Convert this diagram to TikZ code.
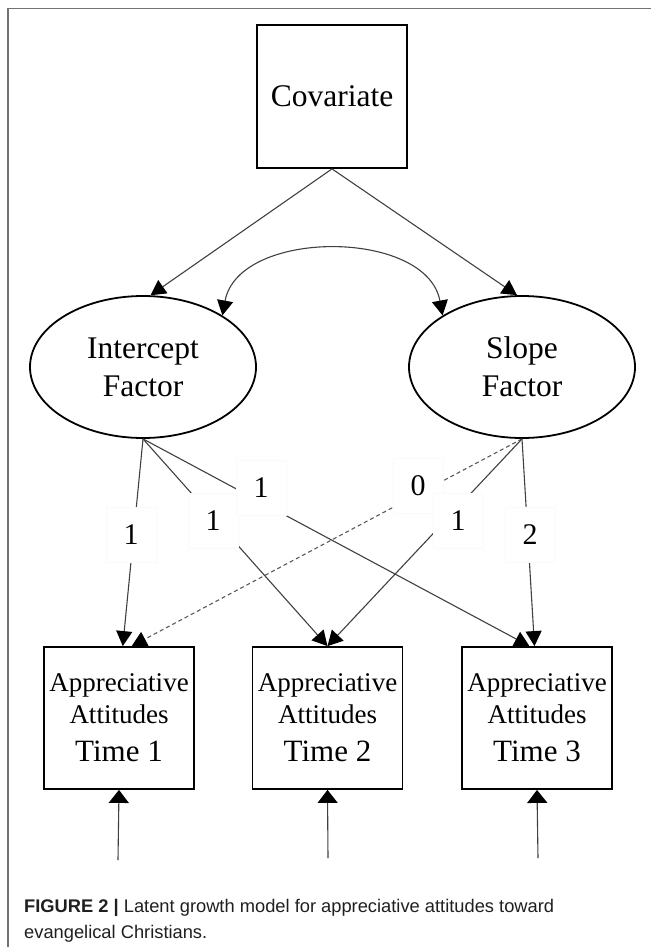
\documentclass[tikz,border=0pt]{standalone}
\usepackage{fontspec}
\setmainfont{Liberation Serif}
\newfontfamily\capfont{Liberation Sans}
\usetikzlibrary{shapes.geometric,arrows.meta,calc}
\begin{document}
\begin{tikzpicture}[x=1pt,y=-1pt,
  conn/.style={draw=black!75, line width=1.1pt},
  tip/.style={-{Triangle[length=15pt,width=16pt,color=black]}},
  obs/.style={draw=black, line width=1.8pt, minimum width=150pt, inner sep=0pt, align=center},
  lat/.style={ellipse, draw=black, line width=1.8pt, minimum width=226pt, minimum height=142pt, inner sep=0pt, align=center, font=\fontsize{31.5}{38}\selectfont},
  lab/.style={fill=white, draw=black!2, line width=0.5pt, minimum width=50pt, minimum height=55pt, inner sep=0pt, font=\fontsize{30}{36}\selectfont},
  ind/.style={obs, minimum height=142pt, font=\fontsize{27}{32}\selectfont}]
\useasboundingbox (0,0) rectangle (651,947);
\draw[black!55, line width=1.5pt] (8,947) -- (8,8.5) -- (651,8.5);

% nodes
\node[obs, minimum height=143pt, font=\fontsize{31.5}{38}\selectfont] (cov) at (332,96.5) {Covariate};
\node[lat] (ic) at (143,367) {Intercept\\Factor};
\node[lat] (sc) at (522,367) {Slope\\Factor};
\node[ind] (t1) at (119,718) {Appreciative\\Attitudes\\[6pt]{\fontsize{31}{32}\selectfont Time 1}};
\node[ind] (t2) at (327.5,718) {Appreciative\\Attitudes\\[6pt]{\fontsize{31}{32}\selectfont Time 2}};
\node[ind] (t3) at (537,718) {Appreciative\\Attitudes\\[6pt]{\fontsize{31}{32}\selectfont Time 3}};

% covariate paths
\draw[conn,tip] (cov.south) -- (ic.84);
\draw[conn,tip] (cov.south) -- (sc.94);
% covariance
\draw[conn,{Triangle[length=15pt,width=16pt,color=black]}-{Triangle[length=15pt,width=16pt,color=black]}]
  (ic.33) .. controls +(16,-87) and +(-16,-87) .. (sc.147);

% loadings
\draw[conn,tip] (ic.south) -- (t1.87);
\draw[conn,tip] (ic.south) -- (t2.north);
\draw[conn,tip] (ic.south) -- (t3.96);
\draw[conn,tip,draw=black!65,dash pattern=on 4pt off 3pt] (sc.south) -- (t1.80);
\draw[conn,tip] (sc.south) -- (t2.north);
\draw[conn,tip] (sc.south) -- (t3.92);

% loading labels
\node[lab] (l1) at (131,535) {1};
\node[lab] (l2) at (213,521) {1};
\node[lab] (l3) at (261,488) {1};
\node[lab] (l0) at (418,486) {0};
\node[lab] (l4) at (458,521) {1};
\node[lab] (l5) at (530,535) {2};

% residuals
\coordinate (e1) at (118,860);
\coordinate (e2) at (328,858);
\coordinate (e3) at (538,858);
\draw[conn,-{Triangle[length=13pt,width=20pt,color=black]}] (e1) -- (t1.south);
\draw[conn,-{Triangle[length=13pt,width=20pt,color=black]}] (e2) -- (t2.south);
\draw[conn,-{Triangle[length=13pt,width=20pt,color=black]}] (e3) -- (t3.south);

% caption
\node[anchor=base west, inner sep=0pt, align=left, text=black!88,
      font=\capfont\fontsize{18.3}{25.5}\selectfont] (cap) at (24,938)
  {\textbf{FIGURE 2 |} Latent growth model for appreciative attitudes toward\\evangelical Christians.};
\end{tikzpicture}
\end{document}
